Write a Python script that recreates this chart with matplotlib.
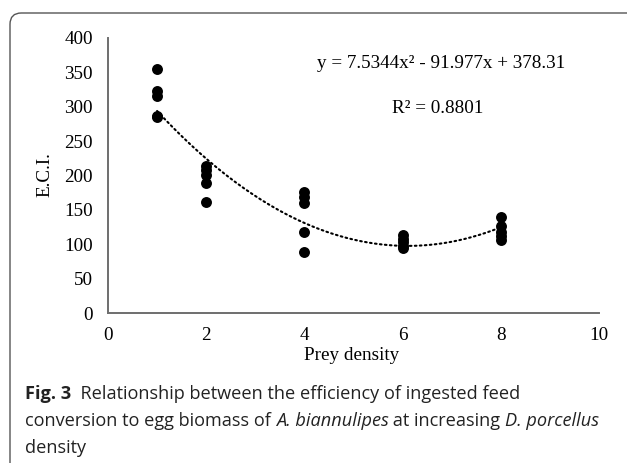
import matplotlib
matplotlib.use("Agg")
import matplotlib.pyplot as plt
import numpy as np
from matplotlib.patches import FancyBboxPatch

# ---- data ----
prey_density = [1, 1, 1, 1, 1,
                2, 2, 2, 2, 2,
                4, 4, 4, 4, 4,
                6, 6, 6, 6, 6,
                8, 8, 8, 8, 8]
eci = [355, 323, 316, 287, 285,
       214, 208, 201, 189, 162,
       176, 169, 160, 118, 89,
       113, 108, 103, 98, 95,
       139, 126, 118, 112, 106]
trend_coef = [7.5344, -91.977, 378.31]
trend_range = [1, 8]
x_ticks = [0, 2, 4, 6, 8, 10]
y_ticks = [0, 50, 100, 150, 200, 250, 300, 350, 400]
equation_label = "y = 7.5344x² - 91.977x + 378.31"
r2_label = "R² = 0.8801"

W, H = 627, 463
fig = plt.figure(figsize=(W / 100, H / 100), dpi=100)

serif = "Liberation Serif"
ax = fig.add_axes([108 / W, 1 - 313 / H, (599 - 108) / W, (313 - 38) / H])
ax.set_xlim(0, 10)
ax.set_ylim(0, 400)
ax.set_xticks(x_ticks)
ax.set_yticks(y_ticks)
for s in ["top", "right"]:
    ax.spines[s].set_visible(False)
for s in ["left", "bottom"]:
    ax.spines[s].set_color("#6e6e6e")
    ax.spines[s].set_linewidth(1.4)
ax.tick_params(length=0, labelsize=13.8)
ax.tick_params(axis="y", pad=11)
ax.tick_params(axis="x", pad=10)
for lab in ax.get_xticklabels() + ax.get_yticklabels():
    lab.set_fontfamily(serif)

xs = np.linspace(trend_range[0], trend_range[1], 200)
ax.plot(xs, np.polyval(trend_coef, xs), color="black", lw=1.5,
        linestyle=(0, (0.8, 1.6)), dash_capstyle="round", zorder=2)
ax.scatter(prey_density, eci, s=62, color="black", zorder=3, linewidths=0)

ax.text(6.78, 363, equation_label, fontsize=13.8, family=serif,
        ha="center", va="center")
ax.text(6.72, 298, r2_label, fontsize=13.8, family=serif,
        ha="center", va="center")

fig.text(352 / W, 1 - 356 / H, "Prey density", fontsize=13.8, family=serif,
         ha="center", va="center")
fig.text(45 / W, 1 - 175 / H, "E.C.I.", fontsize=13.8, family=serif,
         ha="center", va="center", rotation=90)

# frame
box = FancyBboxPatch((10 / W, -12 / H), 640 / W, (463 - 13 + 12) / H,
                     boxstyle="round,pad=0,rounding_size=0.018",
                     transform=fig.transFigure, fill=False,
                     edgecolor="#555555", linewidth=1.0, clip_on=False,
                     mutation_aspect=W / H)
fig.patches.append(box)

# caption
cap_font = "Open Sans"
cap_size = 13.1
renderer = fig.canvas.get_renderer()

def put_line(y_px, segments, x0=25):
    x = x0
    for txt, weight, style in segments:
        t = fig.text(x / W, 1 - y_px / H, txt, fontsize=cap_size, family=cap_font,
                     weight=weight, style=style, ha="left", va="baseline",
                     color="#222222")
        bb = t.get_window_extent(renderer=renderer)
        x += bb.width

put_line(399, [("Fig. 3", "bold", "normal"),
               ("  Relationship between the efficiency of ingested feed", "normal", "normal")])
put_line(426, [("conversion to egg biomass of ", "normal", "normal"),
               ("A. biannulipes", "normal", "italic"),
               (" at increasing ", "normal", "normal"),
               ("D. porcellus", "normal", "italic")])
put_line(453, [("density", "normal", "normal")])

fig.savefig("out.png", dpi=100)
